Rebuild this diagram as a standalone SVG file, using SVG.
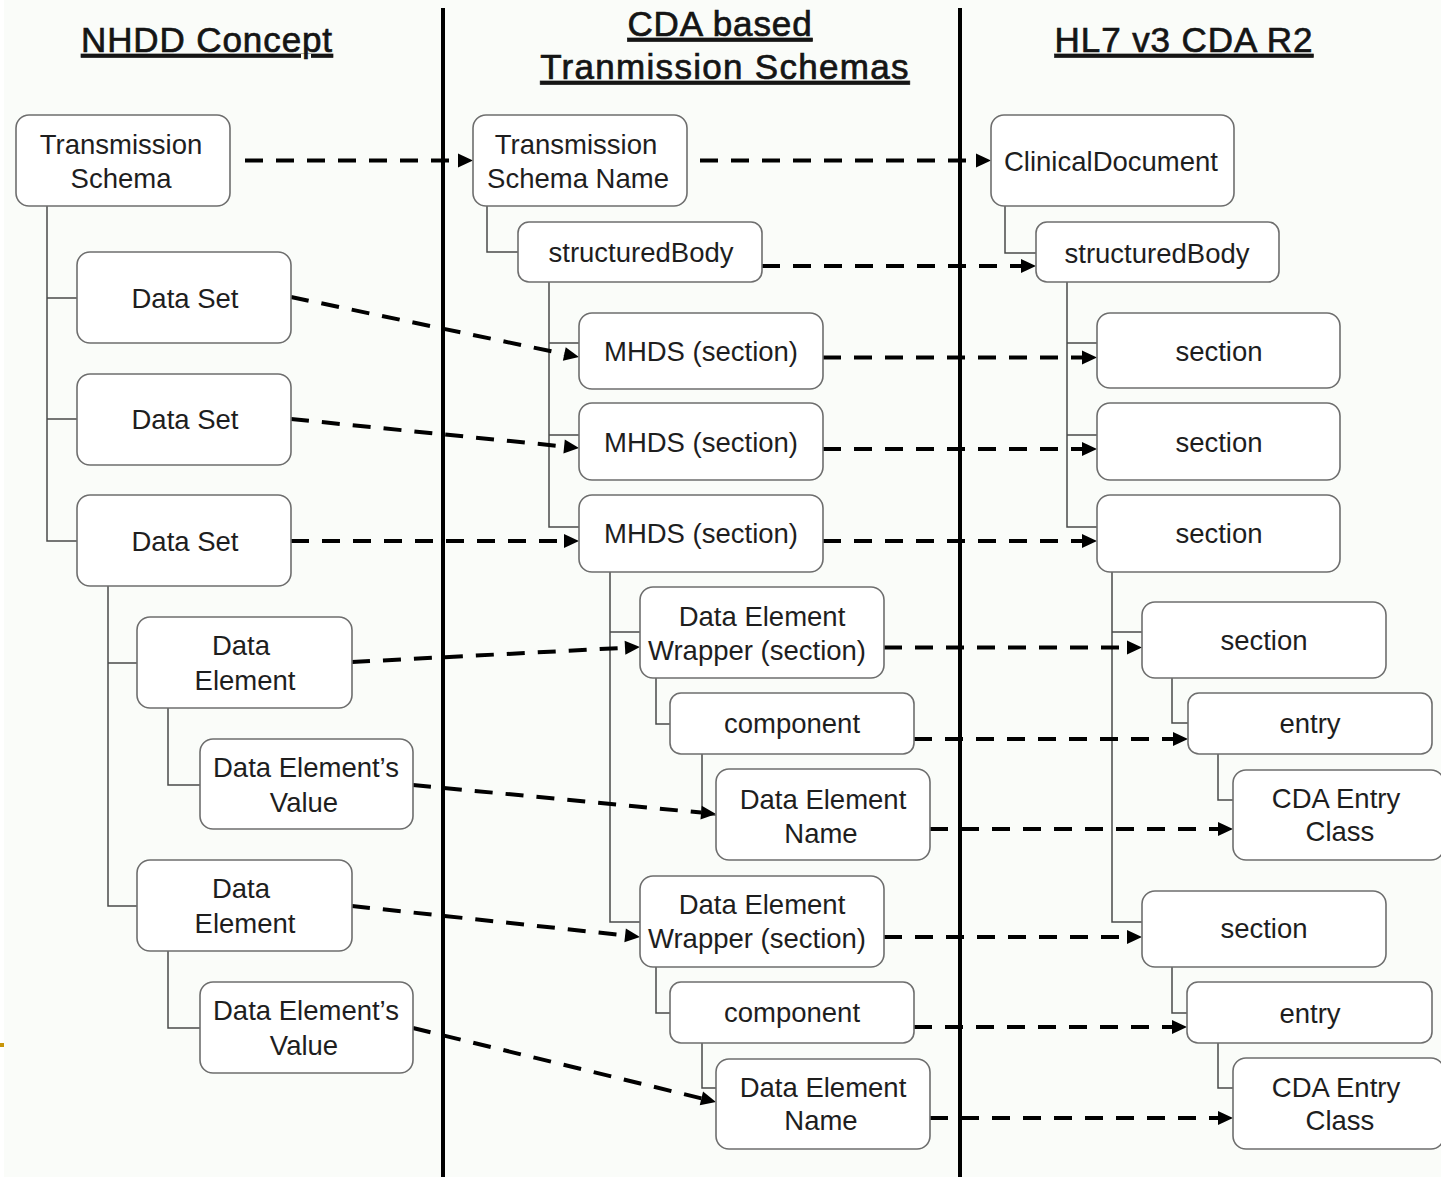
<svg xmlns="http://www.w3.org/2000/svg" width="1441" height="1177" viewBox="0 0 1441 1177">
<style>
.bg{fill:#fafcf9}
.hdr{font-family:"Liberation Sans",Arial,sans-serif;font-size:35px;font-weight:normal;letter-spacing:0.9px;fill:#151515;stroke:#151515;stroke-width:0.7;text-anchor:middle;text-decoration:underline}
.box{fill:#ffffff;stroke:#6e6e6e;stroke-width:1.6}
.t{font-family:"Liberation Sans",Arial,sans-serif;font-size:27.5px;fill:#1e1e1e;text-anchor:middle}
.tree{fill:none;stroke:#4a4a4a;stroke-width:1.5}
.div{stroke:#000;stroke-width:4}
.dash{fill:none;stroke:#000;stroke-width:4;stroke-dasharray:18 13;marker-end:url(#arr)}
</style>
<defs>
<marker id="arr" markerUnits="userSpaceOnUse" markerWidth="16" markerHeight="14" refX="0" refY="7" orient="auto" overflow="visible">
<path d="M0,0 L15,7 L0,14 Z" fill="#000"/>
</marker>
</defs>
<rect class="bg" x="0" y="0" width="1441" height="1177"/>
<rect x="0" y="0" width="4" height="1177" fill="#ffffff"/>
<rect x="0" y="1043" width="4" height="4" fill="#c8960a"/>

<g id="headers">
<text class="hdr" x="207" y="52">NHDD Concept</text>
<text class="hdr" x="720" y="36">CDA based</text>
<text class="hdr" x="725" y="79" style="letter-spacing:1.3px">Tranmission Schemas</text>
<text class="hdr" x="1184" y="52">HL7 v3 CDA R2</text>
</g>

<g id="dividers">
<line class="div" x1="443" y1="8" x2="443" y2="1177"/>
<line class="div" x1="960" y1="8" x2="960" y2="1177"/>
</g>

<g id="tree">
<path class="tree" d="M47,206 V541 H77 M47,298 H77 M47,419 H77"/>
<path class="tree" d="M108,586 V906 H137 M108,663 H137"/>
<path class="tree" d="M168,708 V785 H200 M168,951 V1028 H200"/>
<path class="tree" d="M487,206 V252 H518"/>
<path class="tree" d="M549,282 V527 H579 M549,343 H579 M549,435 H579"/>
<path class="tree" d="M610,572 V922 H640 M610,632 H640"/>
<path class="tree" d="M656,678 V724 H670 M702,754 V815 H716 M656,967 V1013 H670 M702,1043 V1088 H716"/>
<path class="tree" d="M1005,206 V253 H1036"/>
<path class="tree" d="M1067,282 V527 H1097 M1067,343 H1097 M1067,435 H1097"/>
<path class="tree" d="M1112,572 V922 H1142 M1112,632 H1142"/>
<path class="tree" d="M1172,678 V723 H1188 M1218,754 V800 H1233 M1172,967 V1013 H1187 M1218,1043 V1088 H1233"/>
</g>

<g id="connectors">
<path class="dash" d="M245,160.5 H458"/>
<path class="dash" d="M700,160.5 H976"/>
<path class="dash" d="M762,266 H1021"/>
<path class="dash" d="M291,297 L564.3,354"/>
<path class="dash" d="M291,419 L564.1,446.5"/>
<path class="dash" d="M291,541 H564"/>
<path class="dash" d="M823,357.5 H1082"/>
<path class="dash" d="M823,449 H1082"/>
<path class="dash" d="M823,541 H1082"/>
<path class="dash" d="M352,662 L625,647.8"/>
<path class="dash" d="M413,785 L701.1,812.6"/>
<path class="dash" d="M884,647.5 H1127"/>
<path class="dash" d="M914,739 H1173"/>
<path class="dash" d="M930,829 H1218"/>
<path class="dash" d="M352,906 L625.1,935.4"/>
<path class="dash" d="M413,1028 L701.4,1098.4"/>
<path class="dash" d="M884,937 H1127"/>
<path class="dash" d="M914,1027 H1172"/>
<path class="dash" d="M930,1118 H1218"/>
</g>

<g id="n-ts"><rect class="box" x="16" y="115" width="214" height="91" rx="13"/><text class="t" x="121" y="154">Transmission</text><text class="t" x="121" y="188">Schema</text></g>
<g id="n-ds1"><rect class="box" x="77" y="252" width="214" height="91" rx="13"/><text class="t" x="185" y="308">Data Set</text></g>
<g id="n-ds2"><rect class="box" x="77" y="374" width="214" height="91" rx="13"/><text class="t" x="185" y="429">Data Set</text></g>
<g id="n-ds3"><rect class="box" x="77" y="495" width="214" height="91" rx="13"/><text class="t" x="185" y="551">Data Set</text></g>
<g id="n-de1"><rect class="box" x="137" y="617" width="215" height="91" rx="13"/><text class="t" x="241" y="655">Data</text><text class="t" x="245" y="690">Element</text></g>
<g id="n-dev1"><rect class="box" x="200" y="739" width="213" height="90" rx="13"/><text class="t" x="306" y="777">Data Element’s</text><text class="t" x="304" y="812">Value</text></g>
<g id="n-de2"><rect class="box" x="137" y="860" width="215" height="91" rx="13"/><text class="t" x="241" y="898">Data</text><text class="t" x="245" y="933">Element</text></g>
<g id="n-dev2"><rect class="box" x="200" y="982" width="213" height="91" rx="13"/><text class="t" x="306" y="1020">Data Element’s</text><text class="t" x="304" y="1055">Value</text></g>

<g id="n-tsn"><rect class="box" x="473" y="115" width="214" height="91" rx="13"/><text class="t" x="576" y="154">Transmission</text><text class="t" x="578" y="188">Schema Name</text></g>
<g id="n-sb2"><rect class="box" x="518" y="222" width="244" height="60" rx="11"/><text class="t" x="641" y="262">structuredBody</text></g>
<g id="n-mhds1"><rect class="box" x="579" y="313" width="244" height="76" rx="13"/><text class="t" x="701" y="361">MHDS (section)</text></g>
<g id="n-mhds2"><rect class="box" x="579" y="403" width="244" height="77" rx="13"/><text class="t" x="701" y="452">MHDS (section)</text></g>
<g id="n-mhds3"><rect class="box" x="579" y="495" width="244" height="77" rx="13"/><text class="t" x="701" y="543">MHDS (section)</text></g>
<g id="n-dew1"><rect class="box" x="640" y="587" width="244" height="91" rx="13"/><text class="t" x="762" y="626">Data Element</text><text class="t" x="757" y="660">Wrapper (section)</text></g>
<g id="n-comp1"><rect class="box" x="670" y="693" width="244" height="61" rx="11"/><text class="t" x="792" y="733">component</text></g>
<g id="n-den1"><rect class="box" x="716" y="769" width="214" height="91" rx="13"/><text class="t" x="823" y="809">Data Element</text><text class="t" x="821" y="843">Name</text></g>
<g id="n-dew2"><rect class="box" x="640" y="876" width="244" height="91" rx="13"/><text class="t" x="762" y="914">Data Element</text><text class="t" x="757" y="948">Wrapper (section)</text></g>
<g id="n-comp2"><rect class="box" x="670" y="982" width="244" height="61" rx="11"/><text class="t" x="792" y="1022">component</text></g>
<g id="n-den2"><rect class="box" x="716" y="1059" width="214" height="90" rx="13"/><text class="t" x="823" y="1097">Data Element</text><text class="t" x="821" y="1130">Name</text></g>

<g id="n-cd"><rect class="box" x="991" y="115" width="243" height="91" rx="13"/><text class="t" x="1111" y="171">ClinicalDocument</text></g>
<g id="n-sb3"><rect class="box" x="1036" y="222" width="243" height="60" rx="11"/><text class="t" x="1157" y="263">structuredBody</text></g>
<g id="n-sec1"><rect class="box" x="1097" y="313" width="243" height="75" rx="13"/><text class="t" x="1219" y="361">section</text></g>
<g id="n-sec2"><rect class="box" x="1097" y="403" width="243" height="77" rx="13"/><text class="t" x="1219" y="452">section</text></g>
<g id="n-sec3"><rect class="box" x="1097" y="495" width="243" height="77" rx="13"/><text class="t" x="1219" y="543">section</text></g>
<g id="n-sec4"><rect class="box" x="1142" y="602" width="244" height="76" rx="13"/><text class="t" x="1264" y="650">section</text></g>
<g id="n-entry1"><rect class="box" x="1188" y="693" width="244" height="61" rx="11"/><text class="t" x="1310" y="733">entry</text></g>
<g id="n-cda1"><rect class="box" x="1233" y="770" width="211" height="90" rx="13"/><text class="t" x="1336" y="808">CDA Entry</text><text class="t" x="1340" y="841">Class</text></g>
<g id="n-sec5"><rect class="box" x="1142" y="891" width="244" height="76" rx="13"/><text class="t" x="1264" y="938">section</text></g>
<g id="n-entry2"><rect class="box" x="1187" y="982" width="245" height="61" rx="11"/><text class="t" x="1310" y="1023">entry</text></g>
<g id="n-cda2"><rect class="box" x="1233" y="1058" width="211" height="91" rx="13"/><text class="t" x="1336" y="1097">CDA Entry</text><text class="t" x="1340" y="1130">Class</text></g>
</svg>
